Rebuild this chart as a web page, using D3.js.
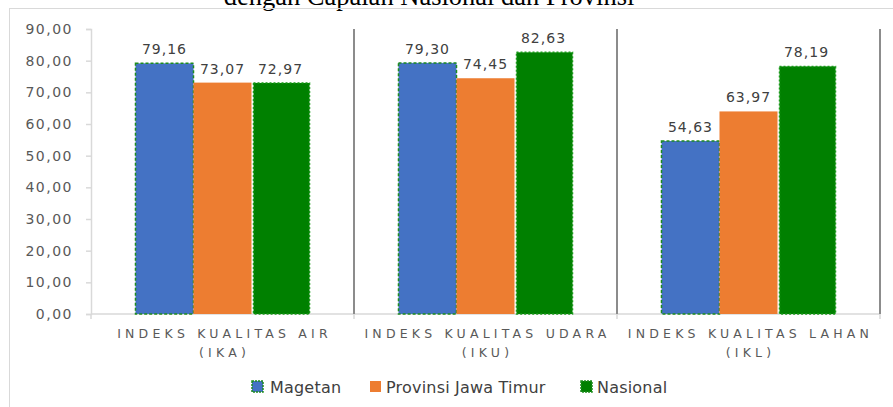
<!DOCTYPE html>
<html>
<head>
<meta charset="utf-8">
<script src="https://cdn.jsdelivr.net/npm/d3@7/dist/d3.min.js"></script>
<style>
  body { margin: 0; background: #fff; }
  svg { display: block; }
</style>
</head>
<body>
<svg id="chart" width="893" height="407"></svg>
<script>
// data
var categories = ["INDEKS KUALITAS AIR|(IKA)", "INDEKS KUALITAS UDARA|(IKU)", "INDEKS KUALITAS LAHAN|(IKL)"];
var seriesNames = ["Magetan", "Provinsi Jawa Timur", "Nasional"];
var magetan = [79.16, 79.30, 54.63];
var jatim = [73.07, 74.45, 63.97];
var nasional = [72.97, 82.63, 78.19];
var yTicks = [0, 10, 20, 30, 40, 50, 60, 70, 80, 90];

var colors = ["#4472c4", "#ed7d31", "#008000"];
var values = [magetan, jatim, nasional];

var svg = d3.select("#chart");
var fmt = function (v) { return d3.format(".2f")(v).replace(".", ","); };

// title (cut off at top in the original)
svg.append("text")
    .attr("x", 429)
    .attr("y", 5)
    .attr("text-anchor", "middle")
    .attr("font-family", "Liberation Serif, Times New Roman, serif")
    .attr("font-size", 26.5)
    .attr("fill", "#000")
    .text("dengan Capaian Nasional dan Provinsi");

// chart frame
svg.append("rect")
    .attr("x", 9.5).attr("y", 8.5)
    .attr("width", 900).attr("height", 420)
    .attr("fill", "none")
    .attr("stroke", "#d9d9d9");

var x0 = d3.scaleBand().domain(categories).range([91, 880]);
var x1 = d3.scaleBand().domain(seriesNames).range([0, x0.bandwidth()]).paddingOuter(0.767);
var y = d3.scaleLinear().domain([0, 90]).range([314, 29]);

// y axis
var yAxis = svg.append("g")
    .attr("transform", "translate(91,0)")
    .call(d3.axisLeft(y).tickValues(yTicks).tickSize(5).tickFormat(fmt));
yAxis.select(".domain").attr("stroke", "#d9d9d9").attr("stroke-width", 1.5);
yAxis.selectAll(".tick line").attr("stroke", "#d9d9d9").attr("stroke-width", 1.5);
yAxis.selectAll(".tick text")
    .attr("x", -18)
    .attr("fill", "#595959")
    .attr("font-family", "DejaVu Sans, sans-serif")
    .attr("font-size", 14)
    .attr("letter-spacing", 1.5);

// x axis line + boundary ticks
svg.append("line")
    .attr("x1", 91).attr("x2", 880)
    .attr("y1", y(0)).attr("y2", y(0))
    .attr("stroke", "#d9d9d9").attr("stroke-width", 1.5);
var bounds = categories.map(function (c) { return x0(c); }).concat([x0.range()[1]]);
svg.selectAll(".xtick").data(bounds).enter().append("line")
    .attr("x1", function (d) { return d; }).attr("x2", function (d) { return d; })
    .attr("y1", y(0)).attr("y2", y(0) + 5)
    .attr("stroke", "#d9d9d9").attr("stroke-width", 1.5);

// category separators
svg.selectAll(".sep").data(bounds.slice(1)).enter().append("line")
    .attr("x1", function (d) { return d; }).attr("x2", function (d) { return d; })
    .attr("y1", y(90)).attr("y2", y(0))
    .attr("stroke", "#8c8c8c").attr("stroke-width", 2);

// bars
var barData = [];
categories.forEach(function (c, ci) {
    seriesNames.forEach(function (s, si) {
        barData.push({ cat: c, series: s, si: si, value: values[si][ci] });
    });
});

var bars = svg.selectAll(".bar").data(barData).enter().append("rect")
    .attr("x", function (d) { return x0(d.cat) + x1(d.series); })
    .attr("y", function (d) { return y(d.value); })
    .attr("width", x1.bandwidth())
    .attr("height", function (d) { return y(0) - y(d.value); })
    .attr("fill", function (d) { return colors[d.si]; });

bars.filter(function (d) { return d.si === 0; })
    .attr("stroke", "#1e8c1e").attr("stroke-width", 1.5).attr("stroke-dasharray", "3,2");
bars.filter(function (d) { return d.si === 2; })
    .attr("x", function (d) { return x0(d.cat) + x1(d.series) + 2; })
    .attr("width", x1.bandwidth() - 2)
    .attr("stroke", "#1a9a1a").attr("stroke-width", 1.5).attr("stroke-dasharray", "2,2");

// value labels
svg.selectAll(".val").data(barData).enter().append("text")
    .attr("x", function (d) { return x0(d.cat) + x1(d.series) + x1.bandwidth() / 2; })
    .attr("y", function (d) { return y(d.value) - 9; })
    .attr("text-anchor", "middle")
    .attr("fill", "#404040")
    .attr("font-family", "DejaVu Sans, sans-serif")
    .attr("font-size", 14)
    .attr("letter-spacing", 1)
    .text(function (d) { return fmt(d.value); });

// category labels
var catG = svg.selectAll(".cat").data(categories).enter().append("text")
    .attr("text-anchor", "middle")
    .attr("fill", "#595959")
    .attr("font-family", "DejaVu Sans, sans-serif")
    .attr("font-size", 12.5)
    .attr("letter-spacing", 4.2);
catG.each(function (d) {
    var t = d3.select(this);
    var cx = x0(d) + x0.bandwidth() / 2 + 2;
    d.split("|").forEach(function (line, i) {
        t.append("tspan")
            .attr("x", cx)
            .attr("y", 338 + i * 19)
            .text(line);
    });
});

// legend
var legendX = [252, 370, 581];
var lg = svg.selectAll(".leg").data(seriesNames).enter().append("g")
    .attr("transform", function (d, i) { return "translate(" + legendX[i] + ",381)"; });
lg.append("rect")
    .attr("width", 11).attr("height", 11)
    .attr("fill", function (d, i) { return colors[i]; })
    .attr("stroke", function (d, i) { return i === 1 ? "none" : "#1e8c1e"; })
    .attr("stroke-width", 1.5)
    .attr("stroke-dasharray", "2,1");
lg.append("text")
    .attr("x", function (d, i) { return i === 0 ? 18 : 16; })
    .attr("y", 12)
    .attr("fill", "#404040")
    .attr("font-family", "DejaVu Sans, sans-serif")
    .attr("font-size", 16)
    .attr("letter-spacing", 0.2)
    .text(function (d) { return d; });
</script>
</body>
</html>
